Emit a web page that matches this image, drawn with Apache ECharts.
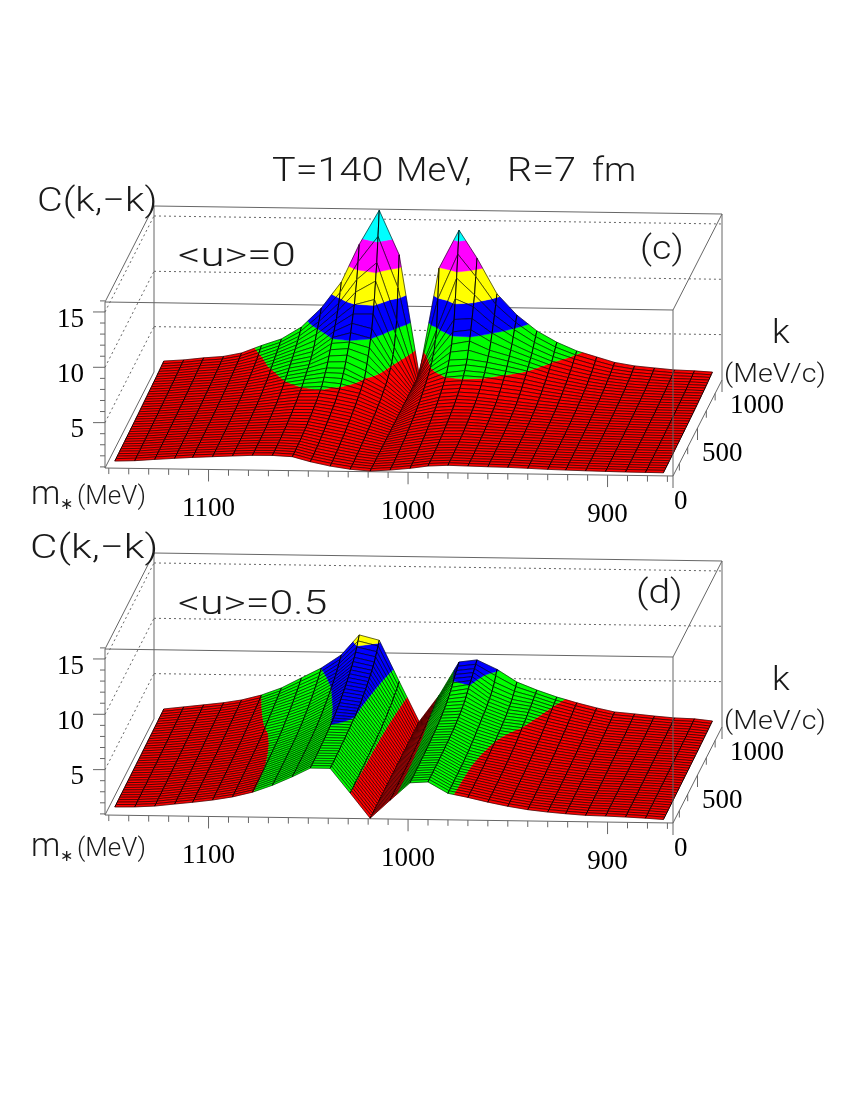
<!DOCTYPE html>
<html><head><meta charset="utf-8">
<style>html,body{margin:0;padding:0;background:#fff}#chart{width:850px;height:1100px}</style>
<script src="https://cdn.jsdelivr.net/npm/echarts@6/dist/echarts.min.js"></script>
</head><body><div id="chart"></div>
<script>
// m* nodes (MeV), one per surface column
const mNodes = [1147,1137,1127,1117,1108,1098,1088,1078,1068,1058,1049,1039,1029,1019,1009,999,990,980,970,960,950,940,930,921,911,901,891,881,872];
// k rows (MeV/c) of the read-off tables below
const kRows = [0,100,200,300,400,500,600,700,750,800,850,900,950,1000];
// C(k,-k) for <u>=0: one list per m* node, one value per k row
const surfaceC = [
[1.54,1.56,1.58,1.6,1.63,1.66,1.7,1.74,1.76,1.78,1.8,1.83,1.86,1.9],
[1.6,1.62,1.65,1.68,1.72,1.76,1.8,1.85,1.88,1.9,1.93,1.96,2.0,2.03],
[1.74,1.76,1.79,1.82,1.86,1.9,1.95,2.02,2.05,2.08,2.12,2.16,2.2,2.24],
[1.86,1.88,1.91,1.94,1.98,2.02,2.08,2.15,2.18,2.22,2.26,2.3,2.35,2.4],
[1.97,1.99,2.02,2.06,2.1,2.16,2.22,2.32,2.37,2.42,2.48,2.55,2.63,2.73],
[2.06,2.08,2.12,2.16,2.22,2.3,2.4,2.55,2.64,2.74,2.86,3.0,3.22,3.43],
[2.15,2.18,2.22,2.28,2.36,2.46,2.62,2.88,3.02,3.28,3.45,3.65,3.85,4.05],
[2.23,2.26,2.3,2.38,2.5,2.68,2.95,3.35,3.6,3.85,4.1,4.4,4.75,5.15],
[2.25,2.28,2.36,2.48,2.66,2.9,3.2,3.7,3.95,4.25,4.7,5.4,6.1,6.9],
[2.16,2.2,2.3,2.45,2.66,2.92,3.3,4.1,4.75,5.45,6.1,6.8,7.8,9.27],
[1.73,1.8,1.95,2.15,2.4,2.7,3.1,4.1,4.85,5.6,6.85,8.1,9.95,12.7],
[1.36,1.45,1.6,1.8,2.05,2.35,2.72,3.2,4.1,5.1,6.4,8.6,11.5,15.8],
[1.1,1.15,1.25,1.37,1.5,1.7,1.95,2.3,2.55,2.85,3.4,4.3,6.3,11.8],
[0.96,0.97,0.97,0.98,0.98,0.98,0.99,0.99,0.99,1,1,1,1,1],
[1.08,1.12,1.2,1.32,1.5,1.72,2.02,2.45,2.72,3.0,3.4,4.1,5.5,10.66],
[1.26,1.33,1.45,1.62,1.84,2.12,2.48,3.0,3.4,4.1,5.1,6.9,10.2,14.1],
[1.49,1.55,1.65,1.8,2.0,2.25,2.62,3.12,3.6,4.2,5.4,7.0,8.7,11.6],
[1.58,1.62,1.7,1.82,2.0,2.22,2.52,3.05,3.45,3.95,4.6,5.7,6.9,8.4],
[1.54,1.57,1.64,1.74,1.88,2.08,2.34,2.85,3.15,3.6,4.1,4.75,5.6,6.5],
[1.5,1.53,1.58,1.66,1.78,1.94,2.16,2.62,2.88,3.2,3.55,3.95,4.5,5.1],
[1.47,1.49,1.53,1.59,1.68,1.8,1.98,2.3,2.5,2.72,2.95,3.25,3.65,4.1],
[1.41,1.43,1.46,1.51,1.58,1.68,1.82,2.05,2.2,2.36,2.54,2.76,3.05,3.34],
[1.34,1.36,1.39,1.43,1.49,1.57,1.68,1.83,1.93,2.04,2.18,2.34,2.55,2.82],
[1.3,1.32,1.35,1.38,1.43,1.49,1.57,1.68,1.75,1.83,1.93,2.04,2.18,2.35],
[1.26,1.28,1.3,1.33,1.37,1.42,1.48,1.56,1.61,1.67,1.74,1.82,1.93,2.06],
[1.23,1.25,1.27,1.3,1.33,1.37,1.42,1.49,1.53,1.58,1.63,1.7,1.79,1.9],
[1.2,1.22,1.24,1.26,1.29,1.33,1.37,1.43,1.46,1.5,1.55,1.6,1.67,1.75],
[1.19,1.2,1.22,1.24,1.27,1.31,1.35,1.4,1.43,1.47,1.51,1.56,1.62,1.69],
[1.18,1.19,1.21,1.23,1.26,1.29,1.33,1.37,1.4,1.43,1.46,1.5,1.55,1.6]
];
// C(k,-k) for <u>=0.5
const surfaceD = [
[1.64,1.65,1.66,1.67,1.69,1.7,1.72,1.74,1.75,1.76,1.77,1.79,1.8,1.82],
[1.67,1.69,1.71,1.74,1.77,1.8,1.84,1.88,1.91,1.93,1.95,1.98,2.0,2.03],
[1.77,1.79,1.82,1.85,1.89,1.94,2.0,2.06,2.09,2.12,2.15,2.18,2.21,2.24],
[1.98,2.0,2.03,2.06,2.1,2.15,2.2,2.27,2.3,2.33,2.36,2.39,2.43,2.46],
[2.16,2.18,2.21,2.25,2.29,2.34,2.41,2.49,2.53,2.57,2.61,2.65,2.69,2.73],
[2.39,2.42,2.45,2.49,2.54,2.6,2.68,2.79,2.85,2.92,2.98,3.05,3.12,3.2],
[2.7,2.73,2.77,2.82,2.88,2.96,3.06,3.27,3.36,3.45,3.55,3.65,3.76,3.87],
[3.15,3.16,3.18,3.22,3.28,3.36,3.5,3.75,3.88,4.02,4.18,4.36,4.56,4.8],
[3.8,3.81,3.83,3.87,3.92,4.0,4.15,4.4,4.55,4.72,4.92,5.15,5.4,5.72],
[4.6,4.61,4.63,4.67,4.74,4.85,5.05,5.35,5.52,5.72,5.95,6.2,6.55,6.93],
[5.4,5.42,5.47,5.55,5.67,5.84,6.1,6.5,6.72,6.98,7.25,7.6,8.1,8.76],
[5.4,5.42,5.47,5.53,5.62,5.7,5.86,6.2,6.4,6.62,6.88,7.2,7.7,8.3],
[3.2,3.22,3.26,3.3,3.36,3.42,3.5,3.65,3.75,3.86,4.0,4.16,4.36,4.6],
[0.95,0.95,0.95,0.96,0.96,0.96,0.97,0.97,0.97,0.98,0.98,0.98,0.99,1],
[2.6,2.62,2.65,2.69,2.74,2.8,2.88,2.98,3.04,3.1,3.16,3.22,3.3,3.4],
[4.2,4.21,4.24,4.28,4.34,4.42,4.55,4.78,4.95,5.15,5.45,5.82,6.1,6.44],
[4.3,4.31,4.33,4.36,4.42,4.5,4.65,4.9,5.1,5.4,5.74,6.0,6.3,6.65],
[3.3,3.32,3.34,3.37,3.45,3.6,3.82,4.06,4.17,4.3,4.48,4.72,5.1,5.82],
[2.95,2.96,2.97,2.99,3.03,3.12,3.27,3.42,3.52,3.64,3.8,4.0,4.3,4.7],
[2.55,2.57,2.6,2.65,2.72,2.81,2.95,3.2,3.3,3.42,3.54,3.67,3.83,4.0],
[2.2,2.22,2.25,2.3,2.37,2.46,2.58,2.74,2.83,2.93,3.03,3.14,3.26,3.4],
[1.92,1.94,1.97,2.02,2.08,2.16,2.26,2.39,2.46,2.54,2.62,2.71,2.8,2.9],
[1.73,1.75,1.78,1.82,1.87,1.93,2.0,2.09,2.14,2.2,2.25,2.32,2.39,2.46],
[1.6,1.62,1.64,1.67,1.7,1.75,1.8,1.87,1.91,1.94,1.98,2.02,2.07,2.12],
[1.48,1.5,1.52,1.55,1.58,1.63,1.68,1.74,1.77,1.8,1.84,1.88,1.92,1.97],
[1.44,1.46,1.48,1.5,1.53,1.56,1.6,1.64,1.67,1.69,1.72,1.74,1.77,1.8],
[1.38,1.39,1.41,1.43,1.45,1.48,1.51,1.54,1.56,1.58,1.6,1.62,1.64,1.66],
[1.3,1.31,1.33,1.35,1.37,1.4,1.43,1.46,1.48,1.5,1.52,1.54,1.57,1.6],
[1.2,1.21,1.23,1.25,1.27,1.29,1.31,1.33,1.35,1.36,1.38,1.39,1.41,1.43]
];
// colour levels of C and their fills
const levels = [-1,3.2,5.7,8.15,10.7,13.2,99];
const levelColors = ['#ff0000','#00ff00','#0000ff','#ffff00','#ff00ff','#00ffff'];
// axis ticks
const cTicksMinor = [1,2,3,4,6,7,8,9,11,12,13,14,16];
const cTicksMajor = [5,10,15];
const mTicksMajor = [1100,1000,900];
const mTicksMinor = [1150,1140,1130,1120,1110,1090,1080,1070,1060,1050,1040,1030,1020,1010,990,980,970,960,950,940,930,920,910,890,880,870];
const kTicksMajor = [0,500,1000];
const kTicksMinor = [130,300,680,860];

const kFineStep = 25;
const depthX = 49, depthY = 96, tilt = 8, boxW = 568, boxH = 166, boxL = 105;
const mMin = 867.2, mMax = 1151.9, cMin = 0.9, cMax = 15.9;
const SERIF = '"Liberation Serif",serif', SANS = 'Roboto,"Liberation Sans",sans-serif';
const GRAY = '#666';

function proj(api, m, k, c) {
  const p = api.coord([m, c]);
  return [p[0] + k / 1000 * depthX, p[1] + (p[0] - boxL) * tilt / boxW - k / 1000 * depthY];
}
function atK(col, k) {
  for (let r = 0; r < kRows.length - 1; r++) {
    if (k <= kRows[r + 1]) {
      const t = (k - kRows[r]) / (kRows[r + 1] - kRows[r]);
      return col[r] + (col[r + 1] - col[r]) * t;
    }
  }
  return col[col.length - 1];
}
function cells(table) {
  const out = [];
  for (let k = 1000; k > 0; k -= kFineStep) {
    const k0 = k - kFineStep;
    for (let i = 0; i < mNodes.length - 1; i++) {
      out.push([mNodes[i], atK(table[i], k0), mNodes[i + 1], atK(table[i + 1], k0), k0, k, atK(table[i], k), atK(table[i + 1], k)]);
    }
  }
  return out;
}
function clipBand(poly, lo, hi) {
  function cut(pts, keep, limit) {
    const res = [];
    for (let a = 0; a < pts.length; a++) {
      const P = pts[a], Q = pts[(a + 1) % pts.length];
      const pin = keep(P[2]), qin = keep(Q[2]);
      if (pin) res.push(P);
      if (pin !== qin) {
        const t = (limit - P[2]) / (Q[2] - P[2]);
        res.push([P[0] + (Q[0] - P[0]) * t, P[1] + (Q[1] - P[1]) * t, limit]);
      }
    }
    return res;
  }
  let r = cut(poly, c => c >= lo, lo);
  if (r.length) r = cut(r, c => c <= hi, hi);
  return r;
}
function edge(p, q, w) {
  return { type: 'line', shape: { x1: p[0], y1: p[1], x2: q[0], y2: q[1] }, style: { stroke: '#000', lineWidth: w } };
}
function renderCell(params, api) {
  const m0 = api.value(0), c00 = api.value(1), m1 = api.value(2), c10 = api.value(3),
        k0 = api.value(4), k1 = api.value(5), c01 = api.value(6), c11 = api.value(7);
  const a = proj(api, m0, k0, c00), b = proj(api, m1, k0, c10), c = proj(api, m1, k1, c11), d = proj(api, m0, k1, c01);
  const poly = [[a[0], a[1], c00], [b[0], b[1], c10], [c[0], c[1], c11], [d[0], d[1], c01]];
  const kids = [];
  for (let l = 0; l < levelColors.length; l++) {
    const band = clipBand(poly, levels[l], levels[l + 1]);
    if (band.length > 2) {
      kids.push({ type: 'polygon', shape: { points: band.map(p => [p[0], p[1]]) },
        style: { fill: levelColors[l], stroke: levelColors[l], lineWidth: 0.4 } });
    }
  }
  kids.push(edge(a, b, 0.6), edge(d, c, 0.6), edge(a, d, 0.95), edge(b, c, 0.95));
  return { type: 'group', children: kids };
}
function seg(p, q, dash) {
  return { type: 'line', shape: { x1: p[0], y1: p[1], x2: q[0], y2: q[1] },
    style: { stroke: GRAY, lineWidth: 1, lineDash: dash || null } };
}
function label(text, x, y, align) {
  return { type: 'text', x: x, y: y, style: { text: text, fill: '#000', font: '27px ' + SERIF, textAlign: align, textVerticalAlign: 'bottom' } };
}
function renderBack(params, api) {
  const L = mMax, R = mMin, B = cMin, T = cMax, kids = [];
  [[L,0,T,R,0,T],[L,1000,T,R,1000,T],[L,0,T,L,1000,T],[R,0,T,R,1000,T],
   [L,1000,T,L,1000,B],[R,1000,T,R,1000,B],[L,0,T,L,0,B],[L,0,B,R,0,B],[L,0,B,L,1000,B],[R,0,B,R,1000,B]]
    .forEach(s => kids.push(seg(proj(api, s[0], s[1], s[2]), proj(api, s[3], s[4], s[5]))));
  cTicksMajor.forEach(c => {
    kids.push(seg(proj(api, L, 0, c), proj(api, L, 1000, c), [2, 3]));
    kids.push(seg(proj(api, L, 1000, c), proj(api, R, 1000, c), [2, 3]));
    const p = proj(api, L, 0, c);
    kids.push(seg(p, [p[0] - 12, p[1]]));
    kids.push(label(String(c), p[0] - 21, p[1] + 21, 'right'));
  });
  cTicksMinor.forEach(c => { const p = proj(api, L, 0, c); kids.push(seg(p, [p[0] - 5, p[1]])); });
  mTicksMinor.forEach(m => { const p = proj(api, m, 0, B); kids.push(seg(p, [p[0], p[1] + 6])); });
  mTicksMajor.forEach(m => {
    const p = proj(api, m, 0, B);
    kids.push(seg(p, [p[0], p[1] + 12]));
    kids.push(label(String(m), p[0], p[1] + 53, 'center'));
  });
  kTicksMinor.forEach(k => { const p = proj(api, R, k, B); kids.push(seg(p, [p[0], p[1] + 7])); });
  kTicksMajor.forEach(k => {
    const p = proj(api, R, k, B);
    kids.push(seg(p, [p[0], p[1] + 12]));
    kids.push(label(String(k), p[0] + 1 + 7 * k / 1000, p[1] + 39, 'left'));
  });
  return { type: 'group', children: kids };
}
function renderFront(params, api) {
  return { type: 'group', children: [seg(proj(api, mMin, 0, cMax), proj(api, mMin, 0, cMin))] };
}
function customSeries(idx, name, data, render, z) {
  return { type: 'custom', name: name, coordinateSystem: 'cartesian2d', xAxisIndex: idx, yAxisIndex: idx,
    data: data, renderItem: render, encode: { x: 0, y: 1 }, clip: false, silent: true, animation: false,
    progressive: 0, z: z };
}
const panels = [{ top: 302, table: surfaceC }, { top: 649, table: surfaceD }];
const grids = panels.map(p => ({ left: boxL, top: p.top, width: boxW, height: boxH, show: false }));
const xAxes = panels.map((p, i) => ({ type: 'value', gridIndex: i, min: mMin, max: mMax, inverse: true, show: false }));
const yAxes = panels.map((p, i) => ({ type: 'value', gridIndex: i, min: cMin, max: cMax, show: false, splitLine: { show: false } }));
const series = [];
panels.forEach((p, i) => {
  series.push(customSeries(i, 'frame' + i, [[mMin, cMin]], renderBack, 1));
  series.push(customSeries(i, 'surface' + i, cells(p.table), renderCell, 2));
  series.push(customSeries(i, 'edge' + i, [[mMin, cMin]], renderFront, 3));
});
function txt(t, x, base, size, sx, font) {
  return { type: 'text', x: x, y: base + 2 + Math.round(size * 0.2), scaleX: sx || 1, z: 10, silent: true,
    style: { text: t, fill: '#1a1a1a', font: '300 ' + size + 'px ' + (font || SANS), align: 'left', verticalAlign: 'bottom' } };
}
const graphicEls = [
  txt('T=140', 272, 180, 33, 1.2), txt('MeV,', 396, 180, 33, 1.1), txt('R=7', 507, 180, 33, 1.2), txt('fm', 592, 180, 33, 1.1),
  txt('C(k,\u2212k)', 37, 210, 33, 1.2), txt('C(k,\u2212k)', 30, 557, 33, 1.28),
  txt('<u>=0', 178, 265, 33, 1.33), txt('<u>=0.5', 178, 613, 33, 1.3),
  txt('(c)', 640, 258, 33, 1.14), txt('(d)', 636, 602, 33, 1.18),
  txt('k', 772, 342, 33, 1.1), txt('k', 772, 689, 33, 1.1),
  txt('(MeV/c)', 724, 381, 26, 1.1), txt('(MeV/c)', 724, 728, 26, 1.1),
  txt('m', 31, 503, 33, 1.0), txt('\u2217', 60, 508, 16, 1), txt('(MeV)', 77, 503, 26, 1.0),
  txt('m', 31, 855, 33, 1.0), txt('\u2217', 60, 860, 16, 1), txt('(MeV)', 77, 855, 26, 1.0)
];
const chart = echarts.init(document.getElementById('chart'), null, { renderer: 'canvas' });
chart.setOption({ animation: false, backgroundColor: '#fff', grid: grids, xAxis: xAxes, yAxis: yAxes, series: series, graphic: { elements: graphicEls } });
</script></body></html>
